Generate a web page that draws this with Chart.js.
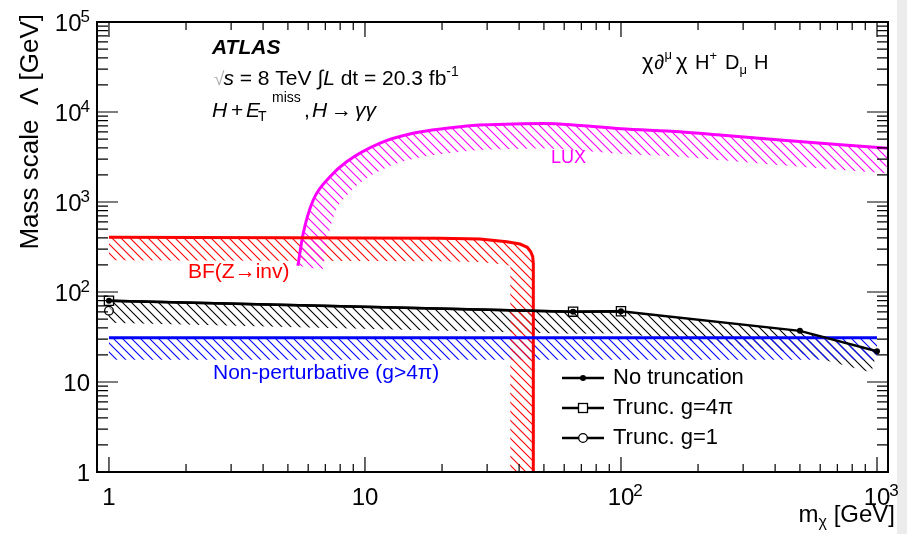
<!DOCTYPE html>
<html><head><meta charset="utf-8">
<script src="https://cdn.jsdelivr.net/npm/chart.js@4/dist/chart.umd.min.js"></script>
<style>html,body{margin:0;padding:0;background:#fff;}#wrap{width:907px;height:534px;position:relative;}</style>
</head><body><div id="wrap"><canvas id="c" width="907" height="534"></canvas></div>
<script>
// ---- data ----
const noTruncMass   = [1, 65, 100, 500, 1000];
const noTruncLambda = [80, 60.5, 61, 37, 22];
const trunc4piMass   = [1, 65, 100];
const trunc4piLambda = [80, 60.5, 61];
const trunc1Mass   = [1];
const trunc1Lambda = [62];
const luxMass   = [5.47, 5.74, 6.28, 7.3, 8.48, 11.4, 15.4, 20.8, 28.1, 37.9, 50, 69, 100, 170, 250, 418, 700, 1104];
const luxLambda = [196, 449, 1052, 1910, 2805, 4490, 5800, 6590, 7170, 7360, 7450, 7080, 6520, 6040, 5510, 4886, 4355, 3950];
const bfMass   = [1, 5, 19.6, 28.1, 35.8, 40.3, 43.05, 44.4, 45.2, 45.45, 45.45];
const bfLambda = [405, 400, 395, 388, 362, 341, 314, 280, 247, 208, 1];
const nonPertMass   = [1, 1000];
const nonPertLambda = [31, 31];
const xTickValues = [1, 10, 100, 1000];
const yTickValues = [1, 10, 100, 1000, 10000, 100000];
const seriesLabels = ['No truncation', 'Trunc. g=4\u03c0', 'Trunc. g=1'];
const bandLabels = ['LUX', 'BF(Z\u2192inv)', 'Non-perturbative (g>4\u03c0)'];

const FONT = '"Liberation Sans", Arial, Helvetica, sans-serif';
const toXY = (xs, ys) => xs.map((x, i) => ({x: x, y: ys[i]}));

function makePattern(ctx, color) {
  const s = 9, c = document.createElement('canvas');
  c.width = s; c.height = s;
  const g = c.getContext('2d');
  g.strokeStyle = color; g.lineWidth = 1.1;
  g.beginPath();
  g.moveTo(-1, -1); g.lineTo(s + 1, s + 1);
  g.moveTo(-1, s - 1); g.lineTo(1, s + 1);
  g.moveTo(s - 1, -1); g.lineTo(s + 1, 1);
  g.stroke();
  return ctx.createPattern(c, 'repeat');
}

function offsetLine(pts, w) {
  const n = pts.length, segN = [];
  for (let i = 0; i < n - 1; i++) {
    const dx = pts[i + 1].x - pts[i].x, dy = pts[i + 1].y - pts[i].y;
    const L = Math.hypot(dx, dy) || 1;
    segN.push({x: -dy / L, y: dx / L});
  }
  const off = [];
  for (let i = 0; i < n; i++) {
    const a = segN[Math.max(0, i - 1)], b = segN[Math.min(n - 2, i)];
    let mx = a.x + b.x, my = a.y + b.y;
    const ml = Math.hypot(mx, my) || 1; mx /= ml; my /= ml;
    let d = mx * a.x + my * a.y; if (d < 0.4) d = 0.4;
    off.push({x: pts[i].x + mx * w / d, y: pts[i].y + my * w / d});
  }
  return off;
}

// sample the line exactly as Chart.js draws it (straight or bezier through its control points)
function samplePath(elems) {
  const out = [];
  for (let i = 0; i < elems.length; i++) {
    const p = elems[i];
    if (i === 0) { out.push({x: p.x, y: p.y}); continue; }
    const q = elems[i - 1];
    if (q.cp2x !== undefined && p.cp1x !== undefined && !(q.cp2x === q.x && p.cp1x === p.x && q.cp2y === q.y && p.cp1y === p.y)) {
      for (let k = 1; k <= 12; k++) {
        const t = k / 12, u = 1 - t;
        out.push({
          x: u*u*u*q.x + 3*u*u*t*q.cp2x + 3*u*t*t*p.cp1x + t*t*t*p.x,
          y: u*u*u*q.y + 3*u*u*t*q.cp2y + 3*u*t*t*p.cp1y + t*t*t*p.y
        });
      }
    } else out.push({x: p.x, y: p.y});
  }
  return out.filter((p, i, arr) => i === 0 || Math.hypot(p.x - arr[i-1].x, p.y - arr[i-1].y) > 0.01);
}

function drawRuns(ctx, x, y, parts) {
  let cx = x;
  for (const p of parts) {
    ctx.font = p.f; ctx.fillStyle = p.c || '#000';
    if (p.x !== undefined) cx = p.x;
    cx += p.dx || 0;
    ctx.fillText(p.t, cx, y + (p.dy || 0));
    cx += ctx.measureText(p.t).width;
  }
  return cx;
}
function runsWidth(ctx, parts) {
  let w = 0;
  for (const p of parts) { ctx.font = p.f; w += (p.dx || 0) + ctx.measureText(p.t).width; }
  return w;
}
function powParts(v, size) {
  const e = Math.round(Math.log10(v));
  if (e <= 1) return [{t: String(v), f: size + 'px ' + FONT}];
  return [{t: '10', f: size + 'px ' + FONT}, {t: String(e), f: Math.round(size * 0.72) + 'px ' + FONT, dy: -9, dx: -1}];
}

const rootPlugin = {
  id: 'rootStyle',
  beforeDraw(chart) {
    const ctx = chart.ctx;
    ctx.save();
    ctx.fillStyle = '#fff'; ctx.fillRect(0, 0, chart.width, chart.height);
    ctx.fillStyle = '#ececec'; ctx.fillRect(897, 0, chart.width - 897, chart.height);
    ctx.restore();
  },
  beforeDatasetsDraw(chart) {
    const ctx = chart.ctx, a = chart.chartArea;
    ctx.save();
    ctx.beginPath(); ctx.rect(a.left, a.top, a.right - a.left, a.bottom - a.top); ctx.clip();
    chart.data.datasets.forEach((ds, di) => {
      if (!ds.hatch) return;
      const pts = samplePath(chart.getDatasetMeta(di).data);
      const off = offsetLine(pts, ds.hatch.w);
      ctx.beginPath();
      pts.forEach((p, i) => i ? ctx.lineTo(p.x, p.y) : ctx.moveTo(p.x, p.y));
      for (let i = off.length - 1; i >= 0; i--) ctx.lineTo(off[i].x, off[i].y);
      ctx.closePath();
      ctx.fillStyle = makePattern(ctx, ds.hatch.color);
      ctx.fill();
    });
    ctx.restore();
  },
  afterDraw(chart) {
    const ctx = chart.ctx, a = chart.chartArea;
    const xs = chart.scales.x, ys = chart.scales.y;
    ctx.save();
    // frame
    ctx.strokeStyle = '#000'; ctx.lineWidth = 2;
    ctx.strokeRect(a.left, a.top, a.right - a.left, a.bottom - a.top);
    // ticks
    ctx.lineWidth = 1.2;
    ctx.beginPath();
    for (let d = 0; d <= 3; d++) for (let k = 1; k <= 9; k++) {
      const v = k * Math.pow(10, d);
      if (v < xs.min || v > xs.max) continue;
      const px = xs.getPixelForValue(v), L = k === 1 ? 15 : 8;
      ctx.moveTo(px, a.bottom); ctx.lineTo(px, a.bottom - L);
      ctx.moveTo(px, a.top); ctx.lineTo(px, a.top + L);
    }
    for (let d = 0; d <= 5; d++) for (let k = 1; k <= 9; k++) {
      const v = k * Math.pow(10, d);
      if (v < ys.min || v > ys.max) continue;
      const py = ys.getPixelForValue(v), L = k === 1 ? 21 : 11;
      ctx.moveTo(a.left, py); ctx.lineTo(a.left + L, py);
      ctx.moveTo(a.right, py); ctx.lineTo(a.right - L, py);
    }
    ctx.stroke();
    // tick labels
    ctx.textBaseline = 'alphabetic'; ctx.textAlign = 'left';
    xTickValues.forEach(v => {
      const px = xs.getPixelForValue(v);
      const parts = powParts(v, 24);
      ctx.font = parts[0].f;
      const bw = ctx.measureText(parts[0].t).width;
      drawRuns(ctx, px - bw / 2, 505, parts);
    });
    yTickValues.forEach(v => {
      const py = ys.getPixelForValue(v);
      const parts = powParts(v, 24);
      const w = runsWidth(ctx, parts);
      drawRuns(ctx, 90 - w, py + 9, parts);
    });
    // axis titles
    const xt = [{t: 'm', f: '24px ' + FONT}, {t: '\u03c7', f: '16px ' + FONT, dy: 5}, {t: ' [GeV]', f: '24px ' + FONT}];
    drawRuns(ctx, 895 - runsWidth(ctx, xt), 522, xt);
    ctx.save();
    ctx.translate(38, 14); ctx.rotate(-Math.PI / 2);
    ctx.font = '26px ' + FONT; ctx.textAlign = 'right'; ctx.fillStyle = '#000';
    ctx.fillText('Mass scale  \u039b [GeV]', 0, 0);
    ctx.restore();
    ctx.textAlign = 'left';
    // annotations
    const F = s => s + 'px ' + FONT, FI = s => 'italic ' + s + 'px ' + FONT;
    drawRuns(ctx, 212, 54, [{t: 'ATLAS', f: 'italic bold 21px ' + FONT}]);
    drawRuns(ctx, 214, 85, [
      {t: '\u221a', f: F(19), c: '#b0b0b0'}, {t: 's', f: FI(21), dx: -1}, {t: ' = 8 TeV ', f: F(21)},
      {t: '\u222b', f: F(21)}, {t: 'L', f: FI(21)}, {t: ' dt = 20.3 fb', f: F(21)}, {t: '-1', f: F(14), dy: -9}
    ]);
    drawRuns(ctx, 212, 117, [
      {t: 'H', f: FI(21)}, {t: '+', f: F(21), x: 231}, {t: 'E', f: FI(21), x: 246}, {t: 'T', f: F(14), dy: 4, x: 258},
      {t: 'miss', f: F(14), dy: -15, x: 272}, {t: ',', f: F(21), x: 304}, {t: 'H', f: FI(21), x: 312},
      {t: '\u2192', f: F(21), x: 331}, {t: '\u03b3\u03b3', f: FI(21), x: 355}
    ]);
    drawRuns(ctx, 642, 69, [
      {t: '\u03c7', f: F(22)}, {t: '\u2202', f: F(20), dx: 1}, {t: '\u03bc', f: F(13), dy: -10},
      {t: '\u03c7', f: F(22), x: 676}, {t: 'H', f: F(20), x: 695}, {t: '+', f: F(13), dy: -9},
      {t: 'D', f: F(20), x: 725}, {t: '\u03bc', f: F(13), dy: 5}, {t: 'H', f: F(20), x: 754}
    ]);
    drawRuns(ctx, 551, 163, [{t: bandLabels[0], f: F(18), c: '#ff00ff'}]);
    drawRuns(ctx, 188, 278, [{t: bandLabels[1], f: F(21), c: '#ff0000'}]);
    drawRuns(ctx, 213, 379, [{t: bandLabels[2], f: F(21), c: '#0000ff'}]);
    // legend
    const rows = [378, 408, 438];
    const styles = ['dot', 'square', 'circle'];
    rows.forEach((ly, i) => {
      ctx.strokeStyle = '#000'; ctx.lineWidth = 2.5;
      ctx.beginPath(); ctx.moveTo(562, ly); ctx.lineTo(604, ly); ctx.stroke();
      ctx.lineWidth = 1.3;
      if (styles[i] === 'dot') { ctx.fillStyle = '#000'; ctx.beginPath(); ctx.arc(583, ly, 3, 0, 2 * Math.PI); ctx.fill(); }
      if (styles[i] === 'square') { ctx.fillStyle = '#fff'; ctx.fillRect(578.5, ly - 4.5, 9, 9); ctx.strokeRect(578.5, ly - 4.5, 9, 9); }
      if (styles[i] === 'circle') { ctx.fillStyle = '#fff'; ctx.beginPath(); ctx.arc(583, ly, 4.3, 0, 2 * Math.PI); ctx.fill(); ctx.stroke(); }
      drawRuns(ctx, 613, ly + 6, [{t: seriesLabels[i], f: F(22)}]);
    });
    ctx.restore();
  }
};

new Chart(document.getElementById('c'), {
  type: 'scatter',
  data: {
    datasets: [
      {label: seriesLabels[0], data: toXY(noTruncMass, noTruncLambda), showLine: true, borderColor: '#000', borderWidth: 2.5,
       pointRadius: 3, pointStyle: 'circle', pointBackgroundColor: '#000', pointBorderWidth: 0, clip: 0,
       hatch: {color: '#000', w: 22}},
      {label: seriesLabels[1], data: toXY(trunc4piMass, trunc4piLambda), showLine: true, borderColor: '#000', borderWidth: 2.5,
       pointRadius: 6.5, pointStyle: 'rect', pointBackgroundColor: 'rgba(0,0,0,0)', pointBorderColor: '#000', pointBorderWidth: 1.3, clip: 0},
      {label: seriesLabels[2], data: toXY(trunc1Mass, trunc1Lambda), showLine: false,
       pointRadius: 4.3, pointStyle: 'circle', pointBackgroundColor: 'rgba(255,255,255,0.6)', pointBorderColor: '#000', pointBorderWidth: 1.3, clip: 0},
      {label: bandLabels[2], data: toXY(nonPertMass, nonPertLambda), showLine: true, borderColor: '#0000ff', borderWidth: 3,
       pointRadius: 0, clip: 0, hatch: {color: '#0000ff', w: 22}},
      {label: bandLabels[1], data: toXY(bfMass, bfLambda), showLine: true, borderColor: '#ff0000', borderWidth: 3,
       pointRadius: 0, clip: 0, hatch: {color: '#ff0000', w: 23}},
      {label: bandLabels[0], data: toXY(luxMass, luxLambda), showLine: true, borderColor: '#ff00ff', borderWidth: 3,
       pointRadius: 0, clip: 0, cubicInterpolationMode: 'monotone', hatch: {color: '#ff00ff', w: 25}}
    ]
  },
  options: {
    responsive: false, animation: false, devicePixelRatio: 1,
    layout: {padding: {left: 97, right: 19, top: 22, bottom: 62}},
    scales: {
      x: {type: 'logarithmic', min: 0.898, max: 1104, bounds: 'data', display: false},
      y: {type: 'logarithmic', min: 1, max: 100000, bounds: 'data', display: false}
    },
    plugins: {legend: {display: false}, tooltip: {enabled: false}}
  },
  plugins: [rootPlugin]
});
</script></body></html>
